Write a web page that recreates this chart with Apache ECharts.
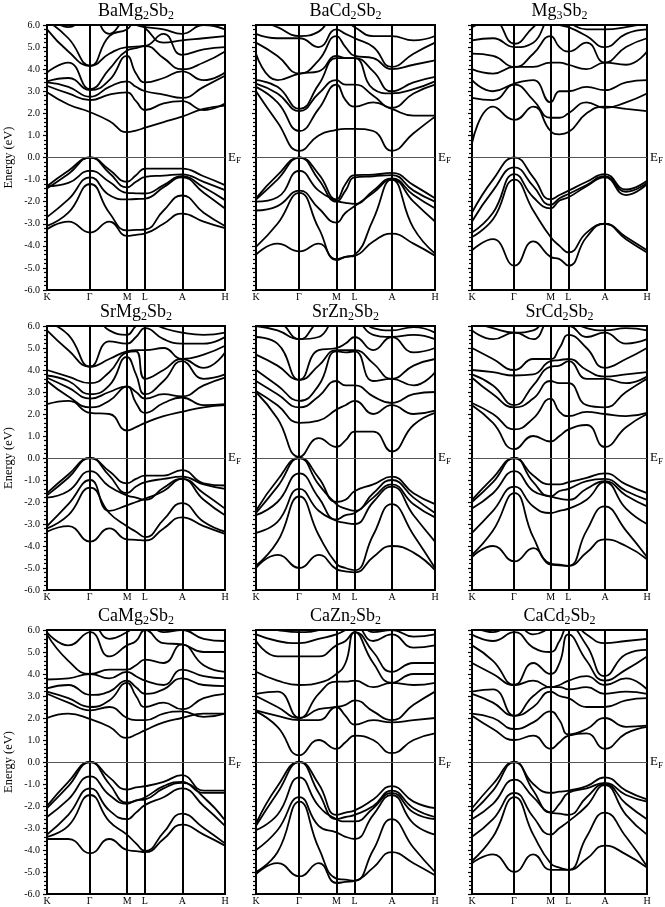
<!DOCTYPE html>
<html>
<head>
<meta charset="utf-8">
<script src="https://cdn.jsdelivr.net/npm/echarts@6/dist/echarts.min.js"></script>
<style>html,body{margin:0;padding:0;background:#fff}#c{width:665px;height:907px}</style>
</head>
<body>
<div id="c"></div>
<script>
// k-path sampling positions (fraction of path length)
const kPoints = [0, 0.12, 0.243, 0.35, 0.449, 0.50, 0.552, 0.655, 0.758, 0.88, 1.0];
// high-symmetry points
const symPoints = [0, 0.243, 0.449, 0.552, 0.758, 1.0];
const symLabels = ['K', 'Γ', 'M', 'L', 'A', 'H'];
// energy axis
const energyMin = -6, energyMax = 6, energyStep = 1;
// compounds (row-major)
const compounds = ['BaMg2Sb2', 'BaCd2Sb2', 'Mg3Sb2', 'SrMg2Sb2', 'SrZn2Sb2', 'SrCd2Sb2', 'CaMg2Sb2', 'CaZn2Sb2', 'CaCd2Sb2'];

// band energies (eV) at kPoints
const bandsBaMg2Sb2 = [
  [-1.3, -0.6, 0, -0.55, -1.1, -0.8, -0.5, -0.5, -0.5, -0.85, -1.25],
  [-1.4, -0.75, 0, -0.7, -1.35, -1.1, -0.88, -0.82, -0.76, -1.1, -1.48],
  [-1.3, -1.15, -0.6, -1.1, -1.6, -1.62, -1.63, -1.25, -0.85, -1.35, -1.93],
  [-2.7, -1.9, -0.9, -1.7, -1.9, -1.88, -1.86, -1.35, -0.9, -1.6, -2.31],
  [-3.1, -2.5, -1.2, -2.5, -3.3, -3.28, -3.26, -2.4, -1.72, -2.5, -3.1],
  [-3.25, -2.9, -3.4, -2.9, -3.55, -3.5, -3.44, -3.0, -2.54, -2.9, -3.2],
  [2.95, 2.4, 2.05, 1.65, 1.15, 1.22, 1.35, 1.6, 1.85, 2.2, 2.35],
  [3.25, 2.9, 2.6, 2.85, 2.95, 2.55, 2.15, 2.45, 2.55, 2.15, 2.45],
  [3.4, 3.2, 2.75, 3.2, 3.45, 3.2, 3.0, 2.85, 2.7, 3.2, 3.7],
  [3.45, 3.6, 3.05, 3.5, 4.6, 3.8, 3.4, 3.6, 3.9, 3.5, 3.85],
  [3.85, 4.3, 3.1, 4.0, 4.85, 4.95, 5.05, 4.5, 4.0, 4.3, 4.8],
  [5.8, 4.8, 4.15, 4.7, 5.0, 5.02, 5.05, 5.6, 4.65, 4.9, 5.0],
  [6.2, 5.4, 4.15, 5.5, 5.8, 6.2, 5.85, 5.2, 5.3, 5.4, 5.5],
  [6.5, 5.9, 6.5, 5.6, 6.2, 6.0, 5.9, 5.8, 5.6, 6.0, 5.8]
];
const bandsBaCd2Sb2 = [
  [-1.85, -0.8, 0, -0.75, -1.9, -1.2, -0.8, -0.78, -0.7, -1.25, -1.85],
  [-1.9, -1.0, 0, -1.0, -2.0, -1.5, -0.9, -0.85, -0.8, -1.5, -2.0],
  [-2.0, -1.8, -0.6, -1.5, -1.95, -2.05, -2.1, -1.5, -0.95, -1.7, -2.3],
  [-2.4, -2.2, -1.5, -2.3, -2.95, -2.5, -2.2, -1.6, -1.0, -2.0, -2.9],
  [-4.05, -3.0, -1.6, -3.2, -4.6, -4.5, -4.4, -2.8, -1.0, -3.2, -4.35],
  [-4.4, -3.9, -4.25, -3.9, -4.65, -4.5, -4.45, -3.8, -3.45, -3.9, -4.45],
  [3.0, 1.6, 0.3, 1.0, 1.25, 1.3, 1.3, 1.2, 0.3, 1.1, 1.85],
  [3.2, 2.5, 1.2, 2.2, 3.3, 2.6, 2.3, 2.5, 2.2, 1.9, 1.9],
  [3.35, 2.9, 2.1, 2.9, 3.5, 3.3, 3.3, 2.8, 2.25, 2.9, 3.3],
  [3.5, 3.2, 2.2, 3.3, 4.5, 4.5, 4.5, 3.1, 2.9, 3.1, 3.45],
  [4.7, 3.5, 3.8, 3.9, 4.6, 4.5, 4.5, 3.9, 3.0, 3.4, 3.65],
  [5.2, 4.6, 3.8, 4.4, 5.5, 5.0, 4.6, 4.5, 4.0, 4.2, 4.4],
  [5.6, 5.4, 5.4, 5.0, 5.8, 5.6, 5.4, 5.0, 4.1, 4.7, 5.2],
  [6.3, 5.9, 5.5, 5.7, 6.5, 6.2, 5.9, 5.5, 5.5, 5.3, 5.5]
];
const bandsMg3Sb2 = [
  [-2.5, -1.0, 0, -0.9, -1.9, -1.7, -1.5, -1.1, -0.75, -1.45, -1.05],
  [-2.9, -1.5, -0.45, -1.3, -2.15, -1.85, -1.65, -1.25, -0.85, -1.55, -1.15],
  [-3.4, -2.5, -0.75, -1.8, -2.3, -1.95, -1.8, -1.3, -0.9, -1.7, -1.2],
  [-3.6, -2.8, -1.0, -2.4, -3.6, -4.0, -4.3, -3.4, -3.0, -3.6, -4.2],
  [-4.2, -3.7, -4.9, -3.8, -4.5, -4.6, -4.9, -3.6, -3.0, -3.7, -4.3],
  [0.65, 2.3, 1.7, 2.3, 1.2, 1.05, 1.15, 2.0, 2.3, 2.2, 2.1],
  [2.7, 2.6, 3.3, 2.6, 1.8, 1.8, 2.0, 2.5, 2.25, 2.5, 2.9],
  [3.5, 3.0, 3.35, 3.5, 2.5, 3.0, 3.0, 3.2, 3.05, 3.4, 3.5],
  [4.0, 3.8, 4.1, 4.1, 4.3, 4.3, 4.2, 4.0, 4.3, 4.2, 4.8],
  [4.7, 4.6, 4.1, 4.7, 5.5, 5.0, 4.8, 5.2, 4.3, 5.0, 5.4],
  [5.3, 5.4, 5.0, 5.2, 6.2, 6.0, 5.9, 5.5, 5.0, 5.6, 5.8],
  [5.9, 6.2, 5.15, 5.9, 6.5, 6.3, 6.1, 5.8, 5.8, 5.9, 6.1]
];
const bandsSrMg2Sb2 = [
  [-1.6, -0.75, 0, -0.6, -1.15, -0.95, -0.8, -0.8, -0.55, -1.15, -1.25],
  [-1.7, -0.9, 0, -0.8, -1.6, -1.3, -1.1, -0.95, -0.85, -1.2, -1.4],
  [-1.8, -1.5, -0.6, -1.3, -1.7, -1.8, -1.9, -1.35, -0.95, -1.6, -2.3],
  [-3.1, -2.1, -1.0, -2.4, -2.15, -2.0, -1.85, -1.5, -0.95, -1.9, -2.6],
  [-3.2, -2.6, -1.35, -2.5, -3.1, -3.35, -3.6, -2.8, -2.05, -2.9, -3.35],
  [-3.35, -3.1, -3.8, -3.2, -3.7, -3.72, -3.75, -3.2, -2.7, -3.1, -3.45],
  [2.45, 2.6, 2.05, 2.0, 1.25, 1.4, 1.6, 1.9, 2.1, 2.3, 2.4],
  [3.5, 2.8, 2.3, 2.6, 3.25, 2.5, 2.05, 2.5, 2.75, 2.4, 2.45],
  [3.65, 3.2, 2.7, 3.0, 3.25, 3.0, 2.7, 2.9, 2.8, 3.3, 3.65],
  [3.75, 3.5, 2.9, 3.3, 4.6, 3.8, 2.9, 3.5, 4.4, 3.6, 3.8],
  [4.0, 3.7, 3.4, 3.9, 4.8, 4.85, 3.6, 4.0, 4.5, 4.1, 4.8],
  [5.8, 4.9, 4.15, 4.5, 4.85, 4.9, 4.9, 5.0, 4.5, 4.7, 5.1],
  [6.2, 5.6, 4.15, 5.3, 5.2, 5.5, 5.9, 5.4, 5.2, 5.2, 5.5],
  [6.5, 6.2, 6.5, 5.8, 5.6, 6.0, 6.2, 5.9, 5.7, 5.6, 5.7]
];
const bandsSrZn2Sb2 = [
  [-2.4, -1.0, 0, -0.9, -2.0, -1.9, -1.5, -1.2, -0.85, -1.6, -2.1],
  [-2.5, -1.3, 0, -1.2, -2.1, -2.3, -2.4, -1.6, -1.0, -1.8, -2.5],
  [-2.6, -2.0, -0.7, -1.8, -2.8, -2.6, -2.5, -1.8, -1.2, -2.1, -2.7],
  [-3.4, -2.9, -1.4, -2.4, -2.85, -2.95, -3.0, -2.0, -1.3, -2.6, -3.8],
  [-4.9, -3.8, -1.75, -3.5, -4.8, -5.0, -5.1, -3.5, -2.1, -3.5, -5.0],
  [-5.0, -4.4, -5.0, -4.4, -5.05, -5.15, -5.2, -4.5, -4.0, -4.3, -5.1],
  [3.0, 1.8, 0.05, 0.9, 0.5, 0.8, 1.2, 1.2, 0.3, 1.5, 2.05],
  [3.05, 2.4, 1.6, 1.7, 2.2, 2.4, 2.6, 2.0, 2.4, 2.0, 2.15],
  [3.5, 2.9, 2.3, 2.8, 3.5, 3.3, 3.3, 2.8, 2.5, 2.9, 3.0],
  [4.0, 3.3, 2.6, 3.3, 4.85, 4.8, 4.85, 3.5, 3.6, 3.3, 3.9],
  [4.7, 4.2, 3.55, 4.2, 4.9, 4.9, 4.9, 4.3, 3.6, 4.2, 4.5],
  [5.5, 5.2, 3.55, 4.9, 5.0, 5.2, 5.5, 4.9, 5.5, 4.8, 5.0],
  [6.0, 5.8, 5.4, 5.5, 6.3, 6.0, 6.2, 5.6, 5.5, 5.6, 5.4],
  [6.3, 6.2, 5.4, 6.2, 6.5, 6.4, 6.5, 5.9, 5.8, 5.95, 5.7]
];
const bandsSrCd2Sb2 = [
  [-1.9, -0.9, 0, -0.8, -1.2, -1.2, -1.1, -0.9, -0.7, -1.2, -1.6],
  [-2.0, -1.1, 0, -1.1, -1.75, -1.5, -1.4, -1.05, -0.95, -1.5, -1.9],
  [-2.3, -1.6, -0.6, -1.5, -1.75, -1.85, -1.9, -1.4, -1.05, -1.7, -2.2],
  [-3.4, -2.4, -1.3, -2.2, -2.5, -2.4, -2.3, -1.9, -1.1, -2.3, -3.0],
  [-4.4, -3.3, -1.6, -3.6, -4.8, -4.85, -4.9, -3.3, -2.2, -3.3, -4.5],
  [-4.5, -4.0, -4.7, -4.1, -4.85, -4.88, -4.9, -4.3, -3.7, -4.0, -4.6],
  [2.4, 1.6, 0.4, 1.0, 0.75, 1.0, 1.3, 1.5, 0.5, 1.4, 2.0],
  [2.5, 2.0, 1.3, 1.8, 2.7, 2.1, 1.9, 2.1, 2.0, 1.9, 2.05],
  [3.65, 2.9, 2.3, 2.7, 3.5, 3.4, 3.4, 2.4, 2.3, 3.0, 3.6],
  [3.8, 3.3, 2.4, 3.3, 4.15, 4.2, 4.4, 3.6, 3.6, 3.4, 3.7],
  [4.0, 3.9, 3.75, 3.8, 4.4, 4.45, 4.5, 4.0, 3.7, 3.8, 3.9],
  [5.0, 4.5, 4.0, 4.5, 4.5, 5.0, 5.6, 5.0, 4.1, 4.5, 5.0],
  [5.8, 5.4, 5.7, 5.4, 6.3, 6.0, 6.0, 5.5, 5.7, 5.2, 5.4],
  [6.2, 5.9, 5.7, 5.8, 6.5, 6.4, 6.3, 5.9, 5.8, 5.9, 5.8]
];
const bandsCaMg2Sb2 = [
  [-2.0, -0.9, 0, -0.7, -1.25, -1.15, -1.1, -0.9, -0.6, -1.3, -1.3],
  [-2.1, -1.1, 0, -1.0, -1.85, -1.75, -1.6, -1.1, -0.9, -1.4, -1.4],
  [-2.5, -1.7, -0.65, -1.5, -1.9, -1.75, -1.7, -1.2, -0.95, -1.6, -2.65],
  [-3.3, -2.4, -1.2, -2.2, -2.6, -2.3, -1.95, -1.6, -1.2, -2.0, -2.9],
  [-3.4, -2.9, -1.5, -2.7, -3.3, -3.7, -4.05, -3.2, -2.35, -3.0, -3.7],
  [-3.5, -3.5, -4.15, -3.5, -4.0, -4.05, -4.1, -3.5, -2.85, -3.3, -3.8],
  [2.0, 2.2, 1.95, 1.6, 1.1, 1.25, 1.45, 1.8, 2.0, 2.2, 2.2],
  [3.1, 2.7, 2.35, 2.5, 2.0, 1.9, 1.9, 2.2, 2.3, 2.05, 2.2],
  [3.2, 2.9, 2.5, 2.8, 3.6, 3.0, 2.5, 2.7, 2.4, 2.9, 3.1],
  [3.35, 3.5, 3.05, 3.2, 3.7, 3.4, 3.1, 3.3, 3.8, 3.5, 3.45],
  [3.75, 3.8, 4.0, 3.8, 4.1, 3.9, 3.7, 3.5, 4.2, 3.9, 3.8],
  [5.8, 4.6, 4.0, 4.2, 4.2, 4.4, 4.65, 4.5, 5.35, 4.4, 4.1],
  [5.9, 5.3, 5.9, 4.8, 5.3, 5.5, 6.0, 5.4, 5.35, 5.0, 5.0],
  [6.3, 6.0, 6.3, 5.6, 5.9, 6.2, 6.3, 5.9, 6.0, 5.6, 5.5]
];
const bandsCaZn2Sb2 = [
  [-2.8, -1.1, 0, -1.0, -2.4, -2.3, -2.2, -1.7, -1.1, -1.8, -2.1],
  [-2.9, -1.4, 0, -1.4, -2.6, -2.5, -2.4, -2.0, -1.3, -2.1, -2.5],
  [-3.1, -2.4, -0.7, -2.0, -2.6, -2.7, -2.7, -2.1, -1.4, -2.3, -2.6],
  [-4.0, -3.1, -1.6, -2.9, -3.2, -3.4, -3.5, -2.4, -1.5, -2.8, -3.3],
  [-5.0, -4.1, -1.8, -3.9, -5.3, -5.35, -5.4, -4.0, -2.6, -3.9, -5.0],
  [-5.1, -4.6, -5.2, -4.6, -5.5, -5.45, -5.4, -4.8, -4.1, -4.6, -5.15],
  [2.3, 1.6, 0.3, 1.0, 0.6, 0.9, 1.2, 1.0, 0.4, 1.0, 1.3],
  [2.35, 2.1, 1.9, 1.9, 2.5, 2.1, 1.7, 1.9, 1.8, 1.9, 2.0],
  [3.0, 2.5, 2.0, 2.4, 2.5, 2.6, 2.8, 2.3, 1.9, 2.6, 3.2],
  [3.1, 3.2, 2.0, 3.1, 3.65, 3.65, 3.7, 3.4, 3.6, 3.5, 3.6],
  [4.1, 3.7, 3.5, 3.6, 4.0, 4.5, 5.9, 4.5, 3.6, 4.0, 4.0],
  [5.5, 4.8, 4.8, 4.8, 5.3, 5.5, 5.9, 5.0, 4.1, 4.5, 4.5],
  [5.8, 5.5, 5.4, 5.6, 5.8, 6.0, 6.2, 5.5, 5.8, 5.2, 5.3],
  [6.2, 6.0, 5.9, 6.0, 6.3, 6.3, 6.4, 5.9, 6.0, 5.7, 5.8]
];
const bandsCaCd2Sb2 = [
  [-2.1, -1.0, 0, -1.0, -1.4, -1.35, -1.3, -1.1, -0.7, -1.3, -1.7],
  [-2.3, -1.3, 0, -1.3, -2.3, -1.9, -1.4, -1.2, -0.95, -1.5, -1.8],
  [-2.6, -1.9, -0.8, -1.6, -2.3, -2.35, -2.4, -1.6, -1.0, -1.9, -2.6],
  [-3.4, -2.6, -1.4, -2.5, -3.3, -3.0, -2.7, -2.0, -1.05, -2.4, -3.3],
  [-4.5, -3.4, -1.6, -3.3, -4.6, -4.8, -4.9, -3.4, -2.3, -3.4, -4.75],
  [-4.6, -4.2, -5.0, -4.2, -4.9, -4.9, -4.9, -4.4, -3.8, -4.2, -4.8],
  [2.1, 1.5, 1.0, 1.2, 0.6, 0.9, 1.2, 1.3, 0.6, 1.3, 1.6],
  [2.2, 2.0, 1.5, 1.8, 2.3, 1.9, 1.25, 1.5, 2.0, 1.6, 1.65],
  [3.1, 2.7, 2.1, 2.5, 3.2, 3.0, 2.9, 2.5, 2.5, 2.8, 2.9],
  [3.2, 3.3, 2.1, 3.0, 3.4, 3.4, 3.3, 3.4, 3.1, 3.2, 3.1],
  [4.5, 4.0, 3.5, 3.7, 3.4, 3.5, 3.7, 3.9, 3.5, 3.8, 3.3],
  [5.3, 4.6, 3.5, 4.5, 4.0, 4.5, 5.8, 4.6, 3.7, 4.2, 4.8],
  [5.8, 5.5, 5.9, 5.2, 5.0, 5.5, 6.2, 5.3, 3.9, 4.9, 5.1],
  [6.2, 5.9, 6.3, 5.8, 6.1, 6.3, 6.4, 5.8, 5.4, 5.5, 5.6]
];
const panelBands = [bandsBaMg2Sb2, bandsBaCd2Sb2, bandsMg3Sb2, bandsSrMg2Sb2, bandsSrZn2Sb2, bandsSrCd2Sb2, bandsCaMg2Sb2, bandsCaZn2Sb2, bandsCaCd2Sb2];

// ---------- layout ----------
const FONT = "'Liberation Serif','Times New Roman',serif";
const colLeft = [47, 256, 472], colWidth = [178, 179, 175];
const rowTop = [25, 326, 630], rowHeight = [265, 264, 264];

const chart = echarts.init(document.getElementById('c'), null, {renderer: 'canvas'});
const grids = [], xAxes = [], yAxes = [], titles = [], series = [];

compounds.forEach((name, p) => {
  const r = Math.floor(p / 3), c = p % 3;
  grids.push({left: colLeft[c], top: rowTop[r], width: colWidth[c], height: rowHeight[r],
    show: true, borderColor: '#000', borderWidth: 2, backgroundColor: 'transparent'});
  xAxes.push({type: 'value', gridIndex: p, min: 0, max: 1,
    axisLine: {show: false}, axisTick: {show: false}, axisLabel: {show: false}, splitLine: {show: false}});
  yAxes.push({type: 'value', gridIndex: p, min: energyMin, max: energyMax, interval: energyStep,
    axisLine: {show: true, lineStyle: {color: '#000', width: 2}},
    axisTick: {show: true, length: 4, lineStyle: {color: '#000', width: 1.2}},
    minorTick: {show: true, splitNumber: 5, length: 3, lineStyle: {color: '#000', width: 1.2}},
    splitLine: {show: false},
    axisLabel: {show: c === 0, formatter: v => v.toFixed(1), fontFamily: FONT, fontSize: 10, color: '#000', margin: 7},
    name: c === 0 ? 'Energy (eV)' : '', nameLocation: 'middle', nameGap: 32,
    nameTextStyle: {fontFamily: FONT, fontSize: 12.5, color: '#000'}});
  titles.push({text: name.replace(/(\d)/g, '{s|$1}'), left: colLeft[c] + colWidth[c] / 2, top: rowTop[r] - 25,
    textAlign: 'center', padding: 0,
    textStyle: {fontFamily: FONT, fontSize: 18, fontWeight: 'normal', color: '#000', lineHeight: 22,
      rich: {s: {fontFamily: FONT, fontSize: 12, color: '#000', lineHeight: 10, verticalAlign: 'bottom'}}}});
  panelBands[p].forEach(band => {
    series.push({type: 'line', xAxisIndex: p, yAxisIndex: p,
      data: kPoints.map((k, i) => [k, band[i]]),
      smooth: 0.5, symbol: 'none', silent: true, clip: true,
      lineStyle: {color: '#000', width: 1.8}, z: 3});
  });
  const ml = symPoints.map((x, i) => ({xAxis: x, name: symLabels[i],
    lineStyle: {color: '#000', width: 2, type: 'solid'},
    label: {show: true, position: 'start', formatter: symLabels[i], fontFamily: FONT, fontSize: 10, color: '#000', distance: 2}}));
  ml.push({yAxis: 0, name: 'EF', lineStyle: {color: '#555', width: 1, type: 'solid'},
    label: {show: true, position: 'end', distance: 3, formatter: '{e|E}{f|F}',
      rich: {e: {fontFamily: FONT, fontSize: 13, color: '#000', lineHeight: 16},
             f: {fontFamily: FONT, fontSize: 9, color: '#000', lineHeight: 8, verticalAlign: 'bottom'}}}});
  series.push({type: 'line', xAxisIndex: p, yAxisIndex: p, data: [], symbol: 'none', silent: true, z: 4,
    markLine: {symbol: 'none', silent: true, animation: false, data: ml}});
});

chart.setOption({
  backgroundColor: '#fff', animation: false,
  title: titles, grid: grids, xAxis: xAxes, yAxis: yAxes, series: series
});
</script>
</body>
</html>
